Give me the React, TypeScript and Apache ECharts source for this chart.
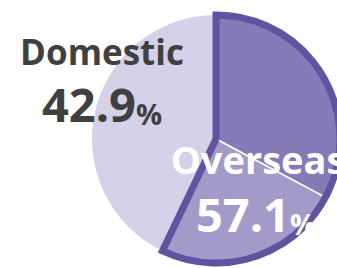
import React, { useEffect, useRef } from "react";
import * as echarts from "echarts";

// Data
const categories = ["Domestic", "Overseas"];
const shares = [42.9, 57.1];
// Overseas slice is shown as two sub-segments (separated by a thin white line)
const overseasParts = [32.8, 24.3];

const COLORS = {
  domestic: "#d5d1e8",
  overseasA: "#867ab8",
  overseasB: "#a49ac9",
  border: "#6253a0",
  darkText: "#404040",
  lightText: "#ffffff",
};

const FONT = '"Open Sans", "Noto Sans", sans-serif';

export default function App() {
  const ref = useRef<HTMLDivElement>(null);

  useEffect(() => {
    if (!ref.current) return;
    const chart = echarts.init(ref.current, undefined, { renderer: "svg" });
    const center = [216, 139];
    const radius = 124;

    const labelRich = (fill: string) => ({
      n: { fontSize: 47, fontWeight: "bold", fontFamily: FONT, fill, color: fill, lineHeight: 47, verticalAlign: "bottom" },
      p: { fontSize: 29, fontWeight: "bold", fontFamily: FONT, fill, color: fill, lineHeight: 39, verticalAlign: "bottom" },
    });

    const option: any = {
      animation: false,
      series: [
        {
          type: "pie",
          center,
          radius,
          startAngle: 90,
          clockwise: true,
          silent: true,
          label: { show: false },
          labelLine: { show: false },
          emphasis: { disabled: true },
          data: [
            { name: categories[1] + " A", value: overseasParts[0], itemStyle: { color: COLORS.overseasA, borderColor: "#ffffff", borderWidth: 1.5 } },
            { name: categories[1] + " B", value: overseasParts[1], itemStyle: { color: COLORS.overseasB, borderColor: "#ffffff", borderWidth: 1.5 } },
            { name: categories[0], value: shares[0], itemStyle: { color: COLORS.domestic, borderWidth: 0 } },
          ],
        },
        {
          type: "pie",
          center,
          radius,
          startAngle: 90,
          clockwise: true,
          silent: true,
          z: 3,
          label: { show: false },
          labelLine: { show: false },
          emphasis: { disabled: true },
          data: [
            {
              name: categories[1],
              value: shares[1],
              itemStyle: { color: "transparent", borderColor: COLORS.border, borderWidth: 7, borderJoin: "miter", borderMiterLimit: 10 },
            },
            { name: categories[0], value: shares[0], itemStyle: { color: "transparent", borderWidth: 0 } },
          ],
        },
      ],
      graphic: [
        {
          type: "text",
          x: 102,
          y: 51,
          z: 10,
          style: { text: categories[0], fill: COLORS.darkText, font: `bold 35px ${FONT}`, textAlign: "center", textVerticalAlign: "middle" },
        },
        {
          type: "text",
          x: 102,
          y: 104,
          z: 10,
          style: {
            text: `{n|${shares[0].toFixed(1)}}{p|%}`,
            rich: labelRich(COLORS.darkText),
            textAlign: "center",
            textVerticalAlign: "middle",
          },
        },
        {
          type: "text",
          x: 258,
          y: 159,
          z: 10,
          style: { text: categories[1], fill: COLORS.lightText, font: `bold 38px ${FONT}`, textAlign: "center", textVerticalAlign: "middle" },
        },
        {
          type: "text",
          x: 256,
          y: 214,
          z: 10,
          style: {
            text: `{n|${shares[1].toFixed(1)}}{p|%}`,
            rich: labelRich(COLORS.lightText),
            textAlign: "center",
            textVerticalAlign: "middle",
          },
        },
      ],
    };
    chart.setOption(option);
    return () => chart.dispose();
  }, []);

  return (
    <div
      ref={ref}
      style={{ position: "fixed", left: 0, top: 0, width: 337, height: 268, background: "#ffffff" }}
    />
  );
}
